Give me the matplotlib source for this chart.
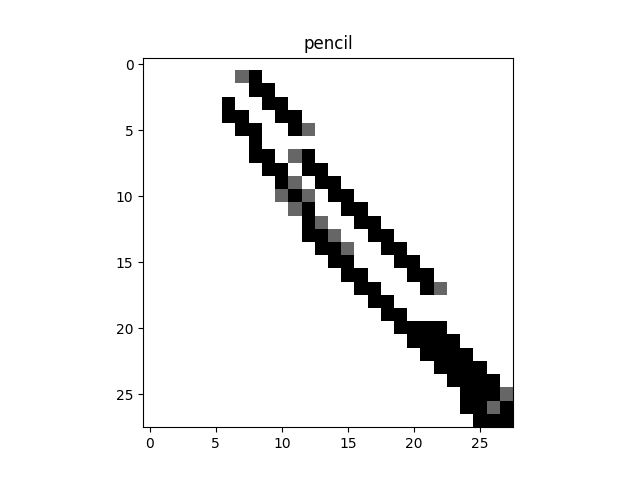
import numpy as np
import matplotlib
matplotlib.use('Agg')
import matplotlib.pyplot as plt

# 28x28 bitmap of the "pencil" doodle.
SIZE = 28
TITLE = 'pencil'

# row -> columns that are fully inked
BLACK_CELLS = {
    1: [8],
    2: [8, 9],
    3: [6, 9, 10],
    4: [6, 7, 10, 11],
    5: [7, 8, 11],
    6: [8],
    7: [8, 9, 12],
    8: [9, 10, 12, 13],
    9: [10, 13, 14],
    10: [11, 14, 15],
    11: [12, 15, 16],
    12: [12, 16, 17],
    13: [12, 13, 17, 18],
    14: [13, 14, 18, 19],
    15: [14, 15, 19, 20],
    16: [15, 16, 20, 21],
    17: [16, 17, 21],
    18: [17, 18],
    19: [18, 19],
    20: [19, 20, 21, 22],
    21: [20, 21, 22, 23],
    22: [21, 22, 23, 24],
    23: [22, 23, 24, 25],
    24: [23, 24, 25, 26],
    25: [24, 25, 26],
    26: [24, 25, 27],
    27: [25, 26, 27],
}

# row -> columns that are partly inked (grey)
GREY_CELLS = {
    1: [7],
    5: [12],
    7: [11],
    9: [11],
    10: [10, 12],
    11: [11],
    12: [13],
    13: [14],
    14: [15],
    17: [22],
    25: [27],
    26: [26],
}

BLACK_VALUE = 1.0
GREY_VALUE = 0.6


def build_image():
    img = np.zeros((SIZE, SIZE))
    for row, cols in BLACK_CELLS.items():
        img[row, cols] = BLACK_VALUE
    for row, cols in GREY_CELLS.items():
        img[row, cols] = GREY_VALUE
    return img


def main():
    fig, ax = plt.subplots(figsize=(6.4, 4.8), dpi=100)
    ax.imshow(build_image(), cmap='gray_r', vmin=0, vmax=1)
    ax.set_title(TITLE)
    fig.savefig('out.png', dpi=100)
    plt.close(fig)


if __name__ == '__main__':
    main()
